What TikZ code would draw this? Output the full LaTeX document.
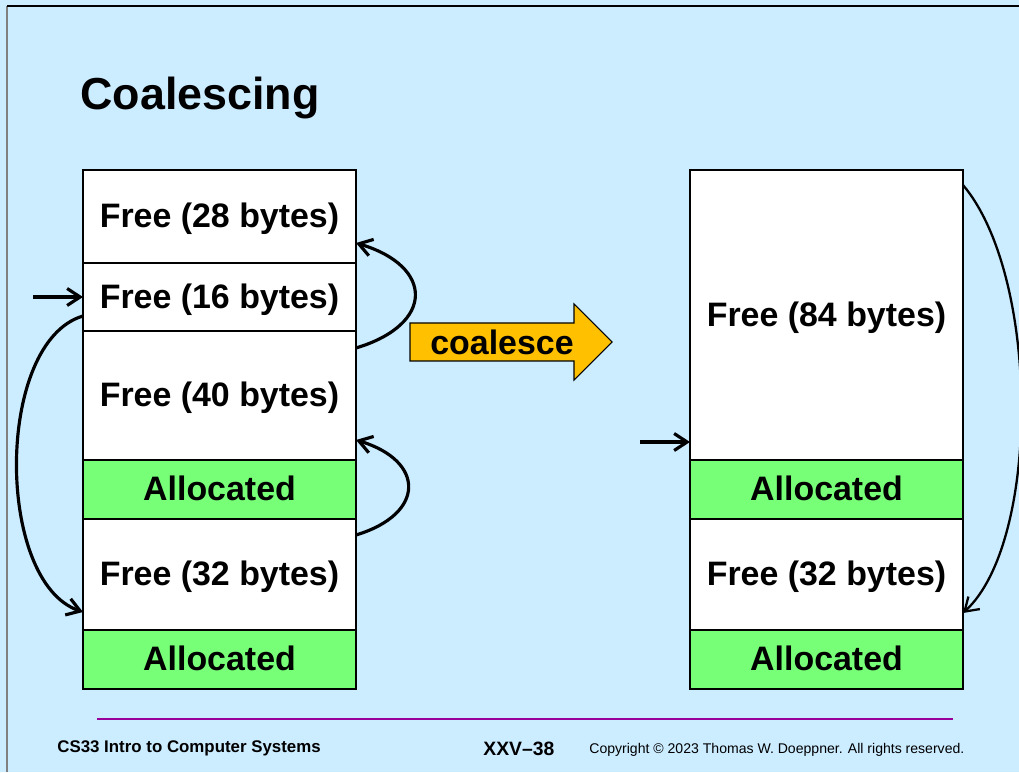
\documentclass[tikz,border=0pt]{standalone}
\usepackage{fontspec}
\setmainfont{Liberation Sans}
\usetikzlibrary{arrows.meta}
\definecolor{slidebg}{RGB}{204,236,255}
\definecolor{allocgreen}{RGB}{119,255,119}
\definecolor{arrowgold}{RGB}{255,192,0}
\definecolor{rulepurple}{RGB}{153,0,153}
\begin{document}
\begin{tikzpicture}[
    >={Straight Barb[length=0.26cm,width=0.34cm]},
    blk/.style={draw, line width=0.6pt, minimum width=5.46cm, inner sep=0pt, outer sep=0pt,
      text height=13pt, text depth=0pt, font=\fontsize{19.3}{22}\selectfont\bfseries},
    freeblk/.style={blk, fill=white},
    allocblk/.style={blk, fill=allocgreen, minimum height=1.18cm},
    link/.style={->, line width=1.8pt}
  ]
        % Fundo do slide
        \fill[slidebg] (0,0) rectangle (20.38,15.44);
        \useasboundingbox (0,0) rectangle (20.38,15.44);
        \draw[gray, line width=0.8pt] (0.14,0) -- (0.14,15.32);
        \draw[line width=1.1pt] (0.14,15.32) -- (20.38,15.32);

        % Titulo
        \node[anchor=base west, inner sep=0pt, font=\fontsize{25.5}{30}\selectfont\bfseries] (title) at (1.6,13.24) {Coalescing};

        % Blocos antes
        \node[freeblk, minimum height=1.86cm] (f28) at (4.39,11.11) {Free (28 bytes)};
        \node[freeblk, minimum height=1.36cm] (f16) at (4.39,9.50) {Free (16 bytes)};
        \node[freeblk, minimum height=2.58cm] (f40) at (4.39,7.53) {Free (40 bytes)};
        \node[allocblk] (a1) at (4.39,5.65) {Allocated};
        \node[freeblk, minimum height=2.22cm] (f32) at (4.39,3.95) {Free (32 bytes)};
        \node[allocblk] (a2) at (4.39,2.25) {Allocated};

        % Blocos depois
        \node[freeblk, minimum height=5.80cm] (f84) at (16.53,9.14) {Free (84 bytes)};
        \node[allocblk] (ra1) at (16.53,5.65) {Allocated};
        \node[freeblk, minimum height=2.22cm] (rf32) at (16.53,3.95) {Free (32 bytes)};
        \node[allocblk] (ra2) at (16.53,2.25) {Allocated};

        % Seta grande
        \draw[fill=arrowgold, line width=0.6pt] (8.2,8.22) -- (11.48,8.22) -- (11.48,7.84) -- (12.24,8.6)
          -- (11.48,9.36) -- (11.48,8.98) -- (8.2,8.98) -- cycle;
        \node[inner sep=0pt, font=\fontsize{19.3}{22}\selectfont\bfseries] (coal) at (10.04,8.6) {coalesce};

        % Lista livre antes
        \coordinate (inL) at (0.66,9.50);
        \draw[link] (inL) -- (f16.west);
        \draw[link] ([yshift=-0.38cm]f16.west) .. controls (-0.1,8.6) and (-0.1,3.8) .. ([yshift=-0.75cm]f32.west);
        \draw[link] ([yshift=-0.34cm]f40.north east) .. controls (8.69,8.95) and (8.69,10.11) .. ([yshift=0.4cm]f28.south east);
        \draw[link] ([yshift=-0.32cm]f32.north east) .. controls (8.51,5.16) and (8.51,6.22) .. ([yshift=0.4cm]f40.south east);

        % Lista livre depois
        \coordinate (inR) at (12.8,6.6);
        \draw[link] (inR) -- (inR -| f84.west);
        \draw[link, line width=1.3pt] ([yshift=-0.3cm]f84.north east) .. controls (20.81,9.9) and (20.81,4.6) .. ([yshift=-0.77cm]rf32.east);

        % Rodape
        \draw[rulepurple, line width=1.7pt] (1.94,1.06) -- (19.06,1.06);
        \node[anchor=base west, inner sep=0pt, font=\fontsize{9.6}{11}\selectfont\bfseries] (course) at (1.14,0.4) {CS33 Intro to Computer Systems};
        \node[anchor=base west, inner sep=0pt, font=\fontsize{11}{12}\selectfont\bfseries] (slideno) at (9.66,0.34) {XXV–38};
        \node[anchor=base west, inner sep=0pt, font=\fontsize{8}{9}\selectfont] (copy) at (11.78,0.38) {Copyright © 2023 Thomas W. Doeppner. All rights reserved.};
      \end{tikzpicture}
\end{document}
